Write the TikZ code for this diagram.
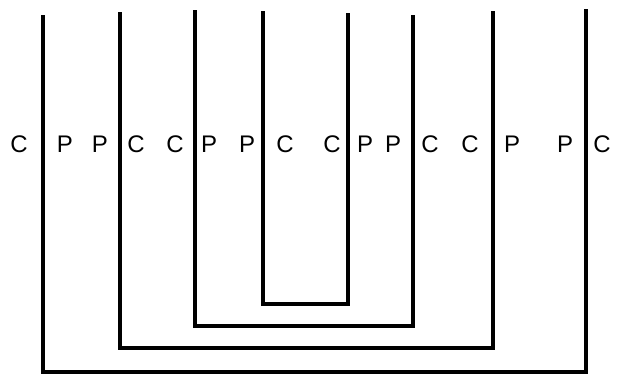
\documentclass[tikz,border=0pt]{standalone}
\usepackage{fontspec}
\setmainfont{Liberation Sans}
\begin{document}
\begin{tikzpicture}[x=1pt,y=1pt,
  bond/.style={line width=4.5pt,line join=miter,line cap=rect},
  lbl/.style={font=\fontsize{24}{24}\selectfont,inner sep=0pt,anchor=base}]
\useasboundingbox (0,0) rectangle (617,374);
% tops of vertical lines
\coordinate (t1) at (43,357);
\coordinate (t2) at (120,360);
\coordinate (t3) at (195,362);
\coordinate (t4) at (263,361);
\coordinate (t5) at (348,359);
\coordinate (t6) at (413,357);
\coordinate (t7) at (493,361);
\coordinate (t8) at (586,363);
% bottom corners
\coordinate (b1) at (43,2);   \coordinate (b8) at (586,2);
\coordinate (b2) at (120,26); \coordinate (b7) at (493,26);
\coordinate (b3) at (195,48); \coordinate (b6) at (413,48);
\coordinate (b4) at (263,70); \coordinate (b5) at (348,70);
\draw[bond] (t1) -- (b1) -- (b8) -- (t8);
\draw[bond] (t2) -- (b2) -- (b7) -- (t7);
\draw[bond] (t3) -- (b3) -- (b6) -- (t6);
\draw[bond] (t4) -- (b4) -- (b5) -- (t5);
% labels
\node[lbl] (l1)  at (19,221)  {C};
\node[lbl] (l2)  at (65,221)  {P};
\node[lbl] (l3)  at (100,221) {P};
\node[lbl] (l4)  at (136,221) {C};
\node[lbl] (l5)  at (175,221) {C};
\node[lbl] (l6)  at (209,221) {P};
\node[lbl] (l7)  at (247,221) {P};
\node[lbl] (l8)  at (285,221) {C};
\node[lbl] (l9)  at (332,221) {C};
\node[lbl] (l10) at (365,221) {P};
\node[lbl] (l11) at (393,221) {P};
\node[lbl] (l12) at (430,221) {C};
\node[lbl] (l13) at (470,221) {C};
\node[lbl] (l14) at (512,221) {P};
\node[lbl] (l15) at (565,221) {P};
\node[lbl] (l16) at (602,221) {C};
\end{tikzpicture}
\end{document}
